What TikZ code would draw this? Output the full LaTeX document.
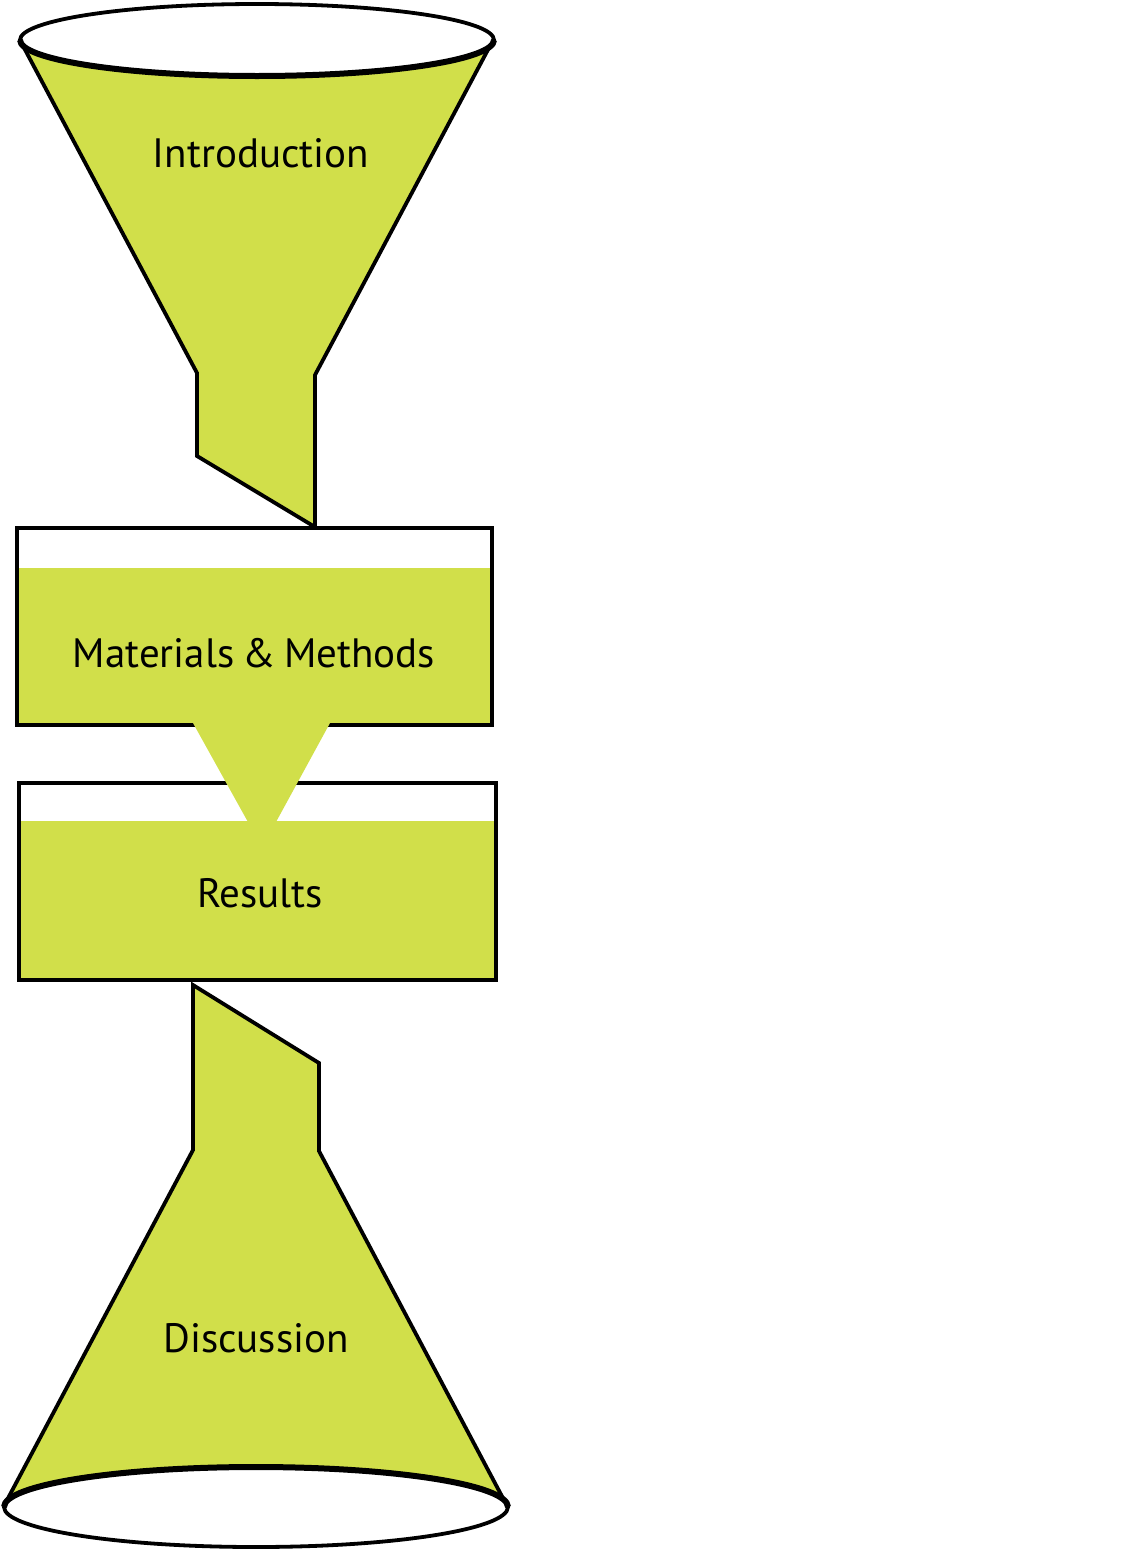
\documentclass[tikz,border=0pt]{standalone}
\usepackage{fontspec}
\setmainfont[WordSpace=0.75]{PT Sans}
\usepackage{tikz}
\definecolor{funnelgreen}{RGB}{209,223,74}

\begin{document}
\begin{tikzpicture}[x=1pt,y=-1pt,
    outline/.style={draw=black,line width=3.8pt,line join=miter},
    rim/.style={draw=black,line width=6pt},
    lbl/.style={font=\fontsize{41}{47}\selectfont,inner sep=0pt}]
    \useasboundingbox (0,0) rectangle (1144,1550);

    % top funnel
    \filldraw[fill=funnelgreen,outline] (22,44) -- (197,373) -- (197,456) -- (315,527) -- (315,375) -- (491,44) -- cycle;
    \filldraw[fill=white,outline] (257,40) ellipse [x radius=237, y radius=36];
    \draw[rim] (494,40) arc[start angle=0, end angle=180, x radius=237, y radius=36];
    \node[lbl] (intro) at (261,153) {Introduction};

    % materials box
    \fill[fill=white] (17,528) rectangle (492,725);
    \fill[fill=funnelgreen] (17,568) rectangle (492,725);
    \draw[outline] (17,528) rectangle (492,725);
    \node[lbl] (methods) at (254,653) {Materials \& Methods};

    % results box
    \fill[fill=white] (19,783) rectangle (496,980);
    \fill[fill=funnelgreen] (19,821) rectangle (496,980);
    \draw[outline] (19,783) rectangle (496,980);
    \node[lbl] (results) at (260,893) {Results};

    % spout between the boxes
    \fill[fill=funnelgreen] (193,723) -- (330,723) -- (276,822) -- (248,822) -- cycle;

    % bottom funnel
    \filldraw[fill=funnelgreen,outline] (193,985) -- (319,1063) -- (319,1151) -- (505,1502) -- (6,1502) -- (193,1150) -- cycle;
    \filldraw[fill=white,outline] (256,1507) ellipse [x radius=252, y radius=40];
    \draw[rim] (4,1507) arc[start angle=180, end angle=360, x radius=252, y radius=40];
    \node[lbl] (discussion) at (256,1338) {Discussion};
\end{tikzpicture}
\end{document}
